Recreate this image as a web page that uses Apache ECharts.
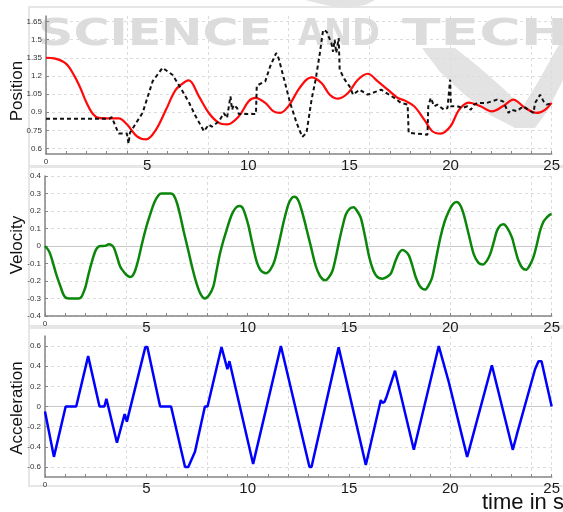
<!DOCTYPE html>
<html><head><meta charset="utf-8">
<script src="https://cdn.jsdelivr.net/npm/echarts@6/dist/echarts.min.js"></script>
<style>html,body{margin:0;padding:0;background:#fff}#c{width:563px;height:512px}</style>
</head><body><div id="c"></div>
<script>
// ---------- data ----------
const redT = [0,0.4,1.0,1.4,1.7,2.0,2.3,2.6,3.0,3.6,4.0,4.5,4.95,5.44,5.93,6.42,6.91,7.07,7.56,8.05,8.55,8.96,9.53,10.02,10.35,10.84,11.25,11.58,11.98,12.48,12.88,13.13,13.62,14.03,14.44,14.93,15.42,15.91,16.4,16.9,17.39,17.72,18.2,18.7,19.1,19.51,20.0,20.42,20.9,21.48,22.05,22.63,23.1,23.69,24.26,24.67,25];
const redV = [1.35,1.345,1.30,1.20,1.10,0.98,0.89,0.853,0.849,0.849,0.80,0.70,0.675,0.757,0.92,1.086,1.155,1.163,1.031,0.894,0.812,0.80,0.866,0.99,1.018,0.977,0.907,0.894,0.949,1.086,1.169,1.188,1.141,1.045,1.012,1.059,1.169,1.218,1.155,1.086,1.018,0.998,0.949,0.839,0.743,0.724,0.784,0.92,0.98,0.949,0.907,0.954,1.004,0.935,0.894,0.92,0.977];

const blackT = [0,3.14,3.25,3.54,3.6,4.0,4.08,4.15,4.78,5.27,5.76,6.25,6.66,7.07,7.4,7.81,8.05,8.2,8.55,8.79,8.95,9.12,9.2,9.28,9.45,9.53,10.38,10.42,10.84,11.08,11.38,11.5,11.82,12.07,12.39,12.67,12.88,13.13,13.33,13.54,13.7,13.87,14.11,14.19,14.27,14.35,14.47,14.52,14.77,15.01,15.18,15.5,15.9,16.57,17.22,17.55,17.88,17.93,18.0,18.86,18.9,19.02,19.19,19.35,19.68,19.85,19.98,20.02,20.33,20.6,20.83,21.0,21.15,21.32,21.8,22.3,22.6,22.87,23.0,23.28,23.6,23.85,24.1,24.18,24.43,24.6,24.75,24.9,25];
const blackV = [0.847,0.847,0.86,0.743,0.724,0.724,0.64,0.73,0.897,1.155,1.267,1.21,1.10,0.98,0.866,0.743,0.798,0.78,0.825,0.894,0.853,1.031,0.92,0.96,0.935,0.886,0.886,1.12,1.155,1.278,1.389,1.347,1.141,0.977,0.812,0.696,0.73,1.004,1.169,1.389,1.58,1.566,1.471,1.40,1.498,1.389,1.512,1.251,1.169,1.113,1.045,1.086,1.045,1.086,1.018,0.977,0.963,0.73,0.715,0.715,0.949,1.018,0.949,0.963,0.92,0.935,1.169,0.949,0.949,0.935,0.949,0.92,0.96,0.977,0.977,1.004,0.99,0.894,0.92,0.91,0.949,0.92,0.894,0.977,1.045,0.99,0.963,0.97,0.977];

const velT = [0,0.2,0.36,0.55,0.77,0.9,1.02,1.2,1.67,1.8,1.9,2.0,2.15,2.33,2.5,2.65,2.8,3.0,3.14,3.28,3.4,3.55,3.72,3.96,4.1,4.21,4.33,4.45,4.6,4.78,5.0,5.19,5.4,5.6,5.75,6.2,6.35,6.5,6.66,6.85,7.07,7.28,7.48,7.68,7.89,8.1,8.3,8.45,8.63,8.8,8.95,9.12,9.28,9.45,9.61,9.78,10.02,10.2,10.43,10.65,10.92,11.12,11.33,11.55,11.78,12.0,12.15,12.31,12.5,12.72,12.92,13.13,13.35,13.54,13.7,13.83,14.0,14.19,14.35,14.52,14.7,14.85,15.05,15.23,15.4,15.58,15.8,16.0,16.2,16.4,16.65,16.85,17.06,17.3,17.47,17.63,17.8,17.96,18.12,18.29,18.5,18.75,18.95,19.11,19.3,19.51,19.72,19.93,20.1,20.3,20.48,20.66,20.9,21.15,21.38,21.6,21.8,21.97,22.15,22.3,22.47,22.63,22.8,23.04,23.2,23.36,23.55,23.74,23.92,24.1,24.25,24.43,24.6,24.75,24.9,25];
const velV = [0,-0.03,-0.083,-0.16,-0.234,-0.275,-0.295,-0.3,-0.3,-0.29,-0.265,-0.234,-0.16,-0.083,-0.025,-0.003,0,0.002,0.01,0.006,-0.01,-0.06,-0.12,-0.158,-0.172,-0.177,-0.168,-0.14,-0.08,0.01,0.11,0.181,0.25,0.29,0.3,0.3,0.29,0.25,0.18,0.08,-0.026,-0.13,-0.215,-0.275,-0.3,-0.28,-0.234,-0.15,-0.045,0.03,0.087,0.15,0.195,0.222,0.228,0.212,0.125,0.03,-0.083,-0.14,-0.155,-0.135,-0.083,0.02,0.14,0.235,0.27,0.281,0.26,0.181,0.09,-0.008,-0.11,-0.165,-0.19,-0.196,-0.18,-0.14,-0.065,0.03,0.12,0.181,0.215,0.222,0.2,0.162,0.05,-0.064,-0.14,-0.177,-0.187,-0.178,-0.158,-0.083,-0.04,-0.023,-0.032,-0.055,-0.11,-0.177,-0.23,-0.249,-0.22,-0.177,-0.07,0.049,0.14,0.2,0.235,0.251,0.235,0.181,0.07,-0.045,-0.095,-0.106,-0.085,-0.045,0.025,0.087,0.118,0.125,0.105,0.049,-0.02,-0.083,-0.125,-0.136,-0.11,-0.064,0.0,0.087,0.14,0.162,0.178,0.181];

const accT = [0,0.44,1.02,1.54,2.13,2.69,2.93,3.03,3.55,3.93,4.04,4.95,5.05,5.68,6.22,6.91,7.07,7.4,7.89,8.02,8.71,9.0,9.1,10.27,11.64,13.05,13.15,14.49,15.83,16.57,16.65,16.75,16.86,16.95,17.27,18.2,19.43,19.92,19.97,20.83,20.9,20.98,22.05,23.08,23.28,23.35,24.18,24.35,24.5,25];
const accV = [-0.05,-0.5,0,0,0.5,0,0,0.077,-0.36,-0.075,-0.15,0.59,0.59,0,0,-0.6,-0.6,-0.45,0,0,0.59,0.37,0.45,-0.57,0.6,-0.6,-0.6,0.587,-0.58,0.064,0.035,0.045,0.10,0.11,0.355,-0.43,0.6,0.246,0.23,-0.5,-0.45,-0.45,0.41,-0.43,-0.28,-0.28,0.37,0.45,0.45,0];

const xLabelValues = [0,5,10,15,20,25];
const posTicks = [0.6,0.75,0.9,1.05,1.2,1.35,1.5,1.65];
const accTicks = [-0.6,-0.4,-0.2,0,0.2,0.4,0.6];
const zeroTick = [0];
const yNames = ['Position','Velocity','Acceleration'];
const xName = 'time in s';
const watermarkWords = ['SCIENCE','AND','TECH'];

// ---------- chart ----------
const pairs = (t, v) => t.map((x, i) => [x, v[i]]);
const chart = echarts.init(document.getElementById('c'), null, {renderer: 'canvas'});

const axisGrey = '#858585';
const gridDash = {type: [3, 3], color: '#dcdcdc', width: 1};
const grids = [
  {left: 46, right: 8, top: 16, height: 138},
  {left: 45, right: 8, top: 176, height: 140},
  {left: 45, right: 8, top: 336, height: 141}
];
const mainX = i => ({
  type: 'value', gridIndex: i, min: 0, max: 25, interval: 1,
  axisLine: {show: true, onZero: false, lineStyle: {color: axisGrey, width: 1.5}},
  axisTick: {show: true, inside: true, length: 3, lineStyle: {color: axisGrey}},
  axisLabel: {
    customValues: xLabelValues, margin: 4,
    formatter: v => v === 0 ? '{s|0}' : '{b|' + v + '}',
    rich: {s: {fontSize: 8, color: '#333', fontFamily: 'Liberation Sans'},
           b: {fontSize: 15, color: '#1a1a1a', fontFamily: 'Liberation Sans'}}
  },
  splitLine: {show: false}
});
const gridX = i => ({
  type: 'value', gridIndex: i, min: 0, max: 25, interval: 4,
  axisLine: {show: false}, axisTick: {show: false}, axisLabel: {show: false},
  splitLine: {show: true, lineStyle: gridDash}
});
const yBase = {
  type: 'value',
  axisLine: {show: true, onZero: false, lineStyle: {color: axisGrey, width: 1.5}},
  axisLabel: {fontSize: 8, color: '#333', margin: 4, fontFamily: 'Liberation Sans'},
  splitLine: {show: true, lineStyle: gridDash}
};
const zeroY = (g, mn, mx) => ({
  type: 'value', gridIndex: g, min: mn, max: mx,
  axisLine: {show: false}, axisLabel: {show: false},
  axisTick: {show: false, customValues: zeroTick},
  splitLine: {show: true, lineStyle: {color: '#c8c8c8', type: 'solid', width: 1}}
});
const yAxes = [
  Object.assign({}, yBase, {gridIndex: 0, min: 0.555, max: 1.695,
    axisTick: {show: true, inside: true, length: 3, customValues: posTicks, lineStyle: {color: axisGrey}},
    axisLabel: Object.assign({}, yBase.axisLabel, {customValues: posTicks})}),
  Object.assign({}, yBase, {gridIndex: 1, min: -0.4, max: 0.4, interval: 0.1,
    axisTick: {show: true, inside: true, length: 3, lineStyle: {color: axisGrey}}}),
  Object.assign({}, yBase, {gridIndex: 2, min: -0.7, max: 0.7,
    axisTick: {show: true, inside: true, length: 3, customValues: accTicks, lineStyle: {color: axisGrey}},
    axisLabel: Object.assign({}, yBase.axisLabel, {customValues: accTicks})}),
  zeroY(1, -0.4, 0.4),
  zeroY(2, -0.7, 0.7)
];

// watermark scaling
const mctx = document.createElement('canvas').getContext('2d');
const wmFont = 'bold 37px "DejaVu Sans"';
mctx.font = wmFont;
const wmBoxes = [[38, 234], [298, 82], [402, 166]];
const wmEls = watermarkWords.map((w, i) => ({
  type: 'text', x: wmBoxes[i][0], y: 35, z: -50, silent: true,
  scaleX: wmBoxes[i][1] / mctx.measureText(w).width,
  style: {text: w, font: wmFont, fill: '#dcdcdc', align: 'left', verticalAlign: 'middle'}
}));

const panelY = [[7, 159], [167, 159], [328, 158]];
const panels = panelY.map(p => ({
  type: 'rect', z: -100, silent: true,
  shape: {x: 29, y: p[0], width: 545, height: p[1]},
  style: {fill: '#fff', stroke: '#e6e6e6', lineWidth: 2}
}));
const nameY = [91, 245, 408];
const names = yNames.map((n, i) => ({
  type: 'text', x: 17, y: nameY[i], rotation: Math.PI / 2, z: 10,
  style: {text: n, font: '17px "Liberation Sans"', fill: '#111', align: 'center', verticalAlign: 'middle'}
}));

chart.setOption({
  animation: false,
  backgroundColor: '#fff',
  grid: grids,
  xAxis: [mainX(0), mainX(1), mainX(2), gridX(0), gridX(1), gridX(2)],
  yAxis: yAxes,
  graphic: [].concat(panels, [
    {type: 'polygon', z: -50, silent: true,
     shape: {points: [[422,48],[455,48],[480,68],[505,90],[522,108],[538,82],[553,55],[563,38],[563,80],[548,110],[535,128],[515,128],[490,115],[465,95],[440,72]]},
     style: {fill: '#e3e3e3'}},
    {type: 'polygon', z: -50, silent: true,
     shape: {points: [[305,0],[375,0],[365,5],[345,8],[325,5]]},
     style: {fill: '#e3e3e3'}}
  ], wmEls, names, [
    {type: 'text', x: 482, y: 503, z: 10,
     style: {text: xName, font: '22px "Liberation Sans"', fill: '#111', align: 'left', verticalAlign: 'middle'}}
  ]),
  series: [
    {type: 'line', xAxisIndex: 0, yAxisIndex: 0, data: pairs(redT, redV), smooth: 0.35, showSymbol: false,
     lineStyle: {color: '#ff0a0a', width: 2.2}, z: 3},
    {type: 'line', xAxisIndex: 0, yAxisIndex: 0, data: pairs(blackT, blackV), showSymbol: false,
     lineStyle: {color: '#111', width: 2, type: [4, 3]}, z: 4},
    {type: 'line', xAxisIndex: 1, yAxisIndex: 1, data: pairs(velT, velV), smooth: 0.3, showSymbol: false,
     lineStyle: {color: '#0b860b', width: 2.5}, z: 3},
    {type: 'line', xAxisIndex: 2, yAxisIndex: 2, data: pairs(accT, accV), showSymbol: false,
     lineStyle: {color: '#0000ff', width: 2.5}, z: 3}
  ]
});
</script></body></html>
